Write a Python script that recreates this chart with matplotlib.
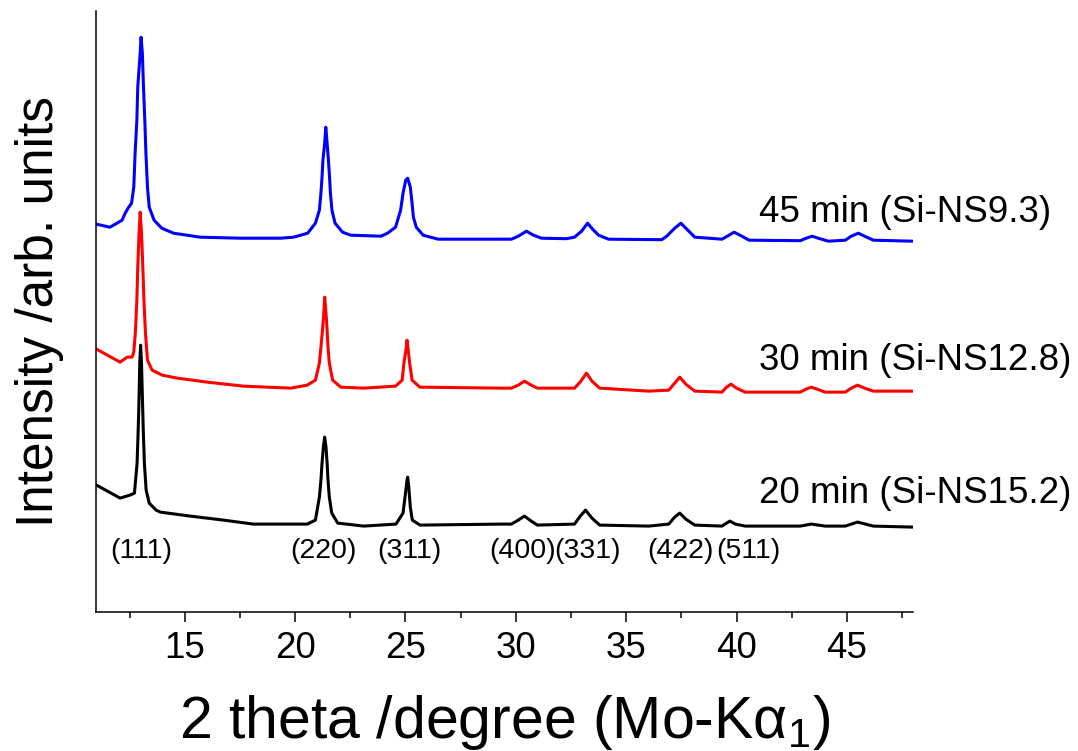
import matplotlib
matplotlib.use("Agg")
import matplotlib.pyplot as plt
from matplotlib.ticker import MultipleLocator

plt.rcParams['font.family'] = ['Liberation Sans', 'DejaVu Sans']
plt.rcParams['mathtext.fontset'] = 'custom'
plt.rcParams['mathtext.rm'] = 'Liberation Sans'
plt.rcParams['mathtext.it'] = 'Liberation Sans:italic'

# traced XRD patterns (2 theta in degree, intensity in arb. units, already offset)
blue_x = [11.0, 11.61, 12.16, 12.30, 12.43, 12.59, 12.69, 12.75, 12.83, 12.87,
          12.98, 13.02, 13.08, 13.13, 13.19, 13.24, 13.31, 13.39, 13.61, 13.96,
          14.49, 15.70, 17.52, 19.34, 19.93, 20.57, 20.92, 21.10, 21.17, 21.22,
          21.26, 21.34, 21.39, 21.45, 21.51, 21.56, 21.60, 21.67, 21.81, 22.15,
          22.52, 23.89, 24.19, 24.55, 24.78, 24.89, 25.01, 25.10, 25.22, 25.30,
          25.36, 25.49, 25.80, 26.48, 29.34, 29.80, 30.11, 30.48, 30.80, 31.16,
          32.30, 32.66, 32.98, 33.25, 33.48, 33.75, 34.20, 36.61, 36.84, 37.20,
          37.48, 37.75, 38.11, 39.34, 39.66, 39.89, 40.16, 40.57, 42.89, 43.16,
          43.43, 43.70, 44.16, 44.93, 45.20, 45.52, 45.80, 46.20, 47.98]
blue_y = [388, 385, 392, 399, 404, 409, 425, 459, 492, 525,
          559, 575, 559, 525, 492, 459, 425, 405, 392, 384,
          379, 375, 374, 374, 375, 379, 389, 402, 419, 435,
          452, 469, 485, 469, 452, 435, 419, 402, 389, 380,
          377, 376, 379, 385, 402, 419, 432, 434, 425, 409,
          395, 385, 377, 373, 373, 373, 376, 381, 377, 374,
          373.5, 375, 381, 389, 383, 377, 373, 372.5, 376, 384,
          389, 383, 375, 373, 377, 380, 377, 372, 371.5, 374,
          376, 374, 371, 372, 376, 379, 376, 372, 371]

red_x = [11.0, 12.07, 12.39, 12.61, 12.69, 12.76, 12.83, 12.87, 12.93, 12.98,
         13.04, 13.10, 13.15, 13.22, 13.31, 13.52, 13.98, 14.66, 16.02, 17.66,
         19.80, 20.55, 20.92, 21.10, 21.17, 21.24, 21.30, 21.34, 21.40, 21.45,
         21.49, 21.55, 21.70, 22.07, 23.11, 24.55, 24.85, 24.93, 25.04, 25.07,
         25.11, 25.19, 25.30, 25.65, 29.34, 29.80, 30.11, 30.39, 30.70, 30.98,
         32.07, 32.66, 32.95, 33.20, 33.45, 33.80, 36.02, 36.93, 37.20, 37.43,
         37.70, 38.11, 39.34, 39.55, 39.75, 40.00, 40.39, 42.89, 43.15, 43.39,
         43.65, 44.02, 44.93, 45.20, 45.48, 45.80, 46.20, 47.98]
red_y = [263, 250, 255, 255, 260, 279, 312, 345, 379, 400,
         379, 345, 312, 279, 252, 242, 237, 234, 230, 226,
         224, 227, 232, 249, 265, 282, 299, 315, 299, 282,
         265, 249, 232, 225, 224, 226, 232, 249, 265, 272,
         265, 249, 232, 225, 224, 224, 227, 231, 227, 224,
         224, 224, 231, 239, 231, 224, 221, 222, 229, 235,
         228, 221, 220, 225, 228, 224, 220, 220, 223, 225,
         223, 220, 220, 224, 227, 224, 221, 221]

black_x = [11.0, 12.07, 12.52, 12.72, 12.84, 12.89, 12.93, 12.96, 13.00, 13.04,
           13.08, 13.12, 13.17, 13.25, 13.39, 13.70, 13.89, 15.25, 16.75, 18.11,
           19.80, 20.55, 20.92, 21.10, 21.17, 21.22, 21.28, 21.34, 21.40, 21.45,
           21.49, 21.55, 21.66, 21.93, 23.11, 24.57, 24.89, 24.98, 25.07, 25.10,
           25.15, 25.22, 25.31, 25.66, 29.34, 29.80, 30.11, 30.39, 30.70, 30.98,
           32.66, 32.92, 33.16, 33.45, 33.80, 36.02, 36.93, 37.20, 37.43, 37.70,
           38.11, 39.34, 39.55, 39.70, 39.95, 40.39, 42.89, 43.39, 44.02, 44.93,
           45.48, 46.20, 47.98]
black_y = [127, 114, 117, 119, 149, 182, 215, 249, 267, 249,
           215, 182, 149, 122, 109, 102, 100, 96, 92, 88,
           88, 88, 92, 115, 132, 149, 165, 175, 165, 149,
           132, 115, 99, 89, 86, 88, 99, 115, 132, 135,
           125, 105, 92, 87, 88, 88, 92, 96, 91, 87,
           88, 96, 102, 94, 87, 86, 88, 95, 99, 93,
           87, 86, 89, 91, 88, 86, 86, 88, 86, 86,
           90, 86, 85]

sample_labels = ['45 min (Si-NS9.3)', '30 min (Si-NS12.8)', '20 min (Si-NS15.2)']
reflections = ['(111)', '(220)', '(311)', '(400)', '(331)', '(422)', '(511)']
reflection_pos = [13.02, 21.3, 25.16, 30.3, 33.25, 37.45, 40.55]

fig = plt.figure(figsize=(10.78, 7.51), dpi=100)
ax = fig.add_axes([0.0895, 0.185, 0.7575, 0.8])

ax.plot(blue_x, blue_y, color='#0000ff', lw=2.2)
ax.plot(red_x, red_y, color='#ff0000', lw=2.2)
ax.plot(black_x, black_y, color='black', lw=2.2)

# sample names on the right
for label, yb in zip(sample_labels, [390, 242, 109]):
    ax.text(41.0, yb, label, fontsize=26.5, va='baseline', ha='left', clip_on=False)

for lab, xp in zip(reflections, reflection_pos):
    ax.text(xp, 61, lab, fontsize=20.5, ha='center', va='center')

ax.set_xlim(11, 48)
ax.set_ylim(0, 601)
ax.xaxis.set_major_locator(MultipleLocator(5))
ax.xaxis.set_minor_locator(MultipleLocator(2.5))
ax.set_yticks([])
ax.tick_params(axis='x', which='major', direction='out', length=7.5, width=1.1,
               labelsize=26.5, pad=6)
ax.tick_params(axis='x', which='minor', direction='out', length=4.3, width=1.1)
for side in ['top', 'right']:
    ax.spines[side].set_visible(False)
for side in ['left', 'bottom']:
    ax.spines[side].set_linewidth(1.1)

ax.set_xlabel('2 theta /degree (Mo-K\u03b1$_1$)', fontsize=42.5)
ax.xaxis.set_label_coords(0.5, -0.135)
ax.set_ylabel('Intensity /arb. units', fontsize=37)
ax.yaxis.set_label_coords(-0.04, 0.5)

fig.savefig('out.png', dpi=100)
